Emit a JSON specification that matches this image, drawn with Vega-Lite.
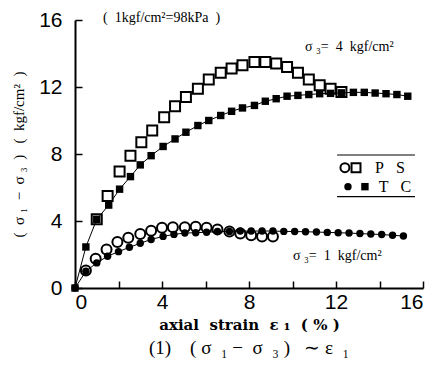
{
  "$schema": "https://vega.github.io/schema/vega-lite/v6.json",
  "width": 348,
  "height": 268,
  "autosize": {"type": "none"},
  "padding": {"left": 75, "top": 20, "right": 22, "bottom": 87},
  "background": "white",
  "config": {
    "view": {"stroke": null},
    "axis": {"grid": false, "domainColor": "black", "domainWidth": 2, "tickColor": "black", "tickWidth": 1.5, "labelColor": "black", "titleColor": "black"}
  },
  "title": {"text": "(1)\u00a0\u00a0\u00a0\u00a0(\u00a0σ\u00a0\u00a0₁\u00a0−\u00a0\u00a0σ\u00a0\u00a0₃\u00a0)\u00a0\u00a0\u00a0∼\u00a0ε\u00a0\u00a0₁", "orient": "bottom", "anchor": "middle", "font": "Liberation Serif", "fontSize": 19, "fontWeight": "normal", "color": "black", "offset": 7},
  "datasets": {
    "curves": [
      {"test": "PS", "sigma3": 4, "strain": 1.0, "stress": 4.1},
      {"test": "PS", "sigma3": 4, "strain": 1.5, "stress": 5.5},
      {"test": "PS", "sigma3": 4, "strain": 2.05, "stress": 6.95},
      {"test": "PS", "sigma3": 4, "strain": 2.55, "stress": 7.9},
      {"test": "PS", "sigma3": 4, "strain": 3.05, "stress": 8.7},
      {"test": "PS", "sigma3": 4, "strain": 3.55, "stress": 9.4},
      {"test": "PS", "sigma3": 4, "strain": 4.1, "stress": 10.2},
      {"test": "PS", "sigma3": 4, "strain": 4.6, "stress": 10.85},
      {"test": "PS", "sigma3": 4, "strain": 5.1, "stress": 11.4},
      {"test": "PS", "sigma3": 4, "strain": 5.65, "stress": 11.9},
      {"test": "PS", "sigma3": 4, "strain": 6.15, "stress": 12.45},
      {"test": "PS", "sigma3": 4, "strain": 6.7, "stress": 12.85},
      {"test": "PS", "sigma3": 4, "strain": 7.2, "stress": 13.1},
      {"test": "PS", "sigma3": 4, "strain": 7.7, "stress": 13.3},
      {"test": "PS", "sigma3": 4, "strain": 8.25, "stress": 13.5},
      {"test": "PS", "sigma3": 4, "strain": 8.75, "stress": 13.5},
      {"test": "PS", "sigma3": 4, "strain": 9.25, "stress": 13.4},
      {"test": "PS", "sigma3": 4, "strain": 9.75, "stress": 13.2},
      {"test": "PS", "sigma3": 4, "strain": 10.25, "stress": 12.85},
      {"test": "PS", "sigma3": 4, "strain": 10.75, "stress": 12.45},
      {"test": "PS", "sigma3": 4, "strain": 11.25, "stress": 12.1},
      {"test": "PS", "sigma3": 4, "strain": 11.75, "stress": 11.9},
      {"test": "PS", "sigma3": 4, "strain": 12.25, "stress": 11.7},
      {"test": "TC", "sigma3": 4, "strain": 0, "stress": 0},
      {"test": "TC", "sigma3": 4, "strain": 0.5, "stress": 2.45},
      {"test": "TC", "sigma3": 4, "strain": 1.0, "stress": 4.1},
      {"test": "TC", "sigma3": 4, "strain": 1.55, "stress": 4.95},
      {"test": "TC", "sigma3": 4, "strain": 2.05, "stress": 5.9},
      {"test": "TC", "sigma3": 4, "strain": 2.55, "stress": 6.65},
      {"test": "TC", "sigma3": 4, "strain": 3.0, "stress": 7.35},
      {"test": "TC", "sigma3": 4, "strain": 3.5, "stress": 7.9},
      {"test": "TC", "sigma3": 4, "strain": 4.05, "stress": 8.45},
      {"test": "TC", "sigma3": 4, "strain": 4.6, "stress": 8.9},
      {"test": "TC", "sigma3": 4, "strain": 5.1, "stress": 9.3},
      {"test": "TC", "sigma3": 4, "strain": 5.65, "stress": 9.7},
      {"test": "TC", "sigma3": 4, "strain": 6.15, "stress": 10.0},
      {"test": "TC", "sigma3": 4, "strain": 6.7, "stress": 10.3},
      {"test": "TC", "sigma3": 4, "strain": 7.2, "stress": 10.55},
      {"test": "TC", "sigma3": 4, "strain": 7.7, "stress": 10.75},
      {"test": "TC", "sigma3": 4, "strain": 8.25, "stress": 10.9},
      {"test": "TC", "sigma3": 4, "strain": 8.75, "stress": 11.15},
      {"test": "TC", "sigma3": 4, "strain": 9.25, "stress": 11.3},
      {"test": "TC", "sigma3": 4, "strain": 9.75, "stress": 11.45},
      {"test": "TC", "sigma3": 4, "strain": 10.25, "stress": 11.5},
      {"test": "TC", "sigma3": 4, "strain": 10.75, "stress": 11.55},
      {"test": "TC", "sigma3": 4, "strain": 11.25, "stress": 11.6},
      {"test": "TC", "sigma3": 4, "strain": 11.75, "stress": 11.62},
      {"test": "TC", "sigma3": 4, "strain": 12.25, "stress": 11.65},
      {"test": "TC", "sigma3": 4, "strain": 12.8, "stress": 11.68},
      {"test": "TC", "sigma3": 4, "strain": 13.3, "stress": 11.68},
      {"test": "TC", "sigma3": 4, "strain": 13.8, "stress": 11.64},
      {"test": "TC", "sigma3": 4, "strain": 14.3, "stress": 11.6},
      {"test": "TC", "sigma3": 4, "strain": 14.8, "stress": 11.55},
      {"test": "TC", "sigma3": 4, "strain": 15.3, "stress": 11.45},
      {"test": "PS", "sigma3": 1, "strain": 0.5, "stress": 1.05},
      {"test": "PS", "sigma3": 1, "strain": 0.95, "stress": 1.75},
      {"test": "PS", "sigma3": 1, "strain": 1.45, "stress": 2.3},
      {"test": "PS", "sigma3": 1, "strain": 1.95, "stress": 2.75},
      {"test": "PS", "sigma3": 1, "strain": 2.45, "stress": 3.0},
      {"test": "PS", "sigma3": 1, "strain": 3.0, "stress": 3.22},
      {"test": "PS", "sigma3": 1, "strain": 3.5, "stress": 3.42},
      {"test": "PS", "sigma3": 1, "strain": 4.0, "stress": 3.6},
      {"test": "PS", "sigma3": 1, "strain": 4.5, "stress": 3.62},
      {"test": "PS", "sigma3": 1, "strain": 5.05, "stress": 3.62},
      {"test": "PS", "sigma3": 1, "strain": 5.55, "stress": 3.65},
      {"test": "PS", "sigma3": 1, "strain": 6.05, "stress": 3.6},
      {"test": "PS", "sigma3": 1, "strain": 6.55, "stress": 3.5},
      {"test": "PS", "sigma3": 1, "strain": 7.1, "stress": 3.38},
      {"test": "PS", "sigma3": 1, "strain": 7.6, "stress": 3.25},
      {"test": "PS", "sigma3": 1, "strain": 8.1, "stress": 3.15},
      {"test": "PS", "sigma3": 1, "strain": 8.6, "stress": 3.08},
      {"test": "PS", "sigma3": 1, "strain": 9.1, "stress": 3.08},
      {"test": "TC", "sigma3": 1, "strain": 0, "stress": 0},
      {"test": "TC", "sigma3": 1, "strain": 0.5, "stress": 1.0},
      {"test": "TC", "sigma3": 1, "strain": 1.0, "stress": 1.5},
      {"test": "TC", "sigma3": 1, "strain": 1.5, "stress": 1.9},
      {"test": "TC", "sigma3": 1, "strain": 2.0, "stress": 2.17},
      {"test": "TC", "sigma3": 1, "strain": 2.5, "stress": 2.43},
      {"test": "TC", "sigma3": 1, "strain": 3.0, "stress": 2.67},
      {"test": "TC", "sigma3": 1, "strain": 3.5, "stress": 2.9},
      {"test": "TC", "sigma3": 1, "strain": 4.05, "stress": 3.08},
      {"test": "TC", "sigma3": 1, "strain": 4.55, "stress": 3.2},
      {"test": "TC", "sigma3": 1, "strain": 5.05, "stress": 3.28},
      {"test": "TC", "sigma3": 1, "strain": 5.55, "stress": 3.3},
      {"test": "TC", "sigma3": 1, "strain": 6.05, "stress": 3.33},
      {"test": "TC", "sigma3": 1, "strain": 6.55, "stress": 3.37},
      {"test": "TC", "sigma3": 1, "strain": 7.1, "stress": 3.38},
      {"test": "TC", "sigma3": 1, "strain": 7.6, "stress": 3.4},
      {"test": "TC", "sigma3": 1, "strain": 8.1, "stress": 3.4},
      {"test": "TC", "sigma3": 1, "strain": 8.6, "stress": 3.4},
      {"test": "TC", "sigma3": 1, "strain": 9.1, "stress": 3.4},
      {"test": "TC", "sigma3": 1, "strain": 9.6, "stress": 3.38},
      {"test": "TC", "sigma3": 1, "strain": 10.1, "stress": 3.37},
      {"test": "TC", "sigma3": 1, "strain": 10.6, "stress": 3.36},
      {"test": "TC", "sigma3": 1, "strain": 11.1, "stress": 3.34},
      {"test": "TC", "sigma3": 1, "strain": 11.6, "stress": 3.32},
      {"test": "TC", "sigma3": 1, "strain": 12.1, "stress": 3.3},
      {"test": "TC", "sigma3": 1, "strain": 12.6, "stress": 3.28},
      {"test": "TC", "sigma3": 1, "strain": 13.1, "stress": 3.25},
      {"test": "TC", "sigma3": 1, "strain": 13.6, "stress": 3.22},
      {"test": "TC", "sigma3": 1, "strain": 14.1, "stress": 3.19},
      {"test": "TC", "sigma3": 1, "strain": 14.6, "stress": 3.15},
      {"test": "TC", "sigma3": 1, "strain": 15.1, "stress": 3.1}
    ],
    "notes": [
      {"x": 1.29, "y": 16.12, "label": "(\u00a0\u00a01kgf/cm²=98kPa\u00a0\u00a0)"},
      {"x": 10.57, "y": 14.39, "label": "σ\u00a0₃=\u00a0\u00a04\u00a0\u00a0kgf/cm²"},
      {"x": 10.02, "y": 1.91, "label": "σ\u00a0₃=\u00a0\u00a01\u00a0\u00a0kgf/cm²"}
    ],
    "legendRules": [
      {"x": 12.05, "x2": 15.63, "y": 7.94},
      {"x": 12.05, "x2": 15.63, "y": 5.45}
    ],
    "legendSymbols": [
      {"test": "PS", "sigma3": 1, "x": 12.41, "y": 7.18},
      {"test": "PS", "sigma3": 4, "x": 12.92, "y": 7.18},
      {"test": "TC", "sigma3": 1, "x": 12.55, "y": 6.05},
      {"test": "TC", "sigma3": 4, "x": 13.33, "y": 6.05}
    ],
    "legendLabels": [
      {"x": 14.48, "y": 7.18, "label": "P\u00a0\u00a0\u00a0S"},
      {"x": 14.71, "y": 6.05, "label": "T\u00a0\u00a0\u00a0C"}
    ]
  },
  "layer": [
    {
      "data": {"name": "curves"},
      "transform": [{"filter": "datum.test == 'PS'"}],
      "mark": {"type": "point", "filled": false, "fill": "white", "fillOpacity": 1, "stroke": "black", "strokeWidth": 2, "opacity": 1, "size": 100},
      "encoding": {
        "x": {"field": "strain", "type": "quantitative", "scale": {"domain": [0, 16], "nice": false},
          "axis": {"values": [0, 2, 4, 6, 8, 10, 12, 14, 16], "labelExpr": "datum.value % 4 == 0 ? datum.label : ''", "tickSize": -7, "labelFont": "Liberation Sans", "labelFontSize": 21, "labelPadding": 10, "title": "axial\u00a0\u00a0strain\u00a0\u00a0ε\u00a0₁\u00a0\u00a0(\u00a0%\u00a0)", "titleFont": "DejaVu Serif", "titleFontSize": 15, "titleFontWeight": "bold", "titlePadding": 5}},
        "y": {"field": "stress", "type": "quantitative", "scale": {"domain": [0, 16], "nice": false},
          "axis": {"values": [0, 2, 4, 6, 8, 10, 12, 14, 16], "labelExpr": "datum.value % 4 == 0 ? datum.label : ''", "tickSize": -7, "labelFont": "Liberation Sans", "labelFontSize": 21, "labelPadding": 20, "title": "(\u00a0\u00a0σ\u00a0₁\u00a0\u00a0−\u00a0\u00a0σ\u00a0₃\u00a0\u00a0)\u00a0\u00a0\u00a0(\u00a0\u00a0kgf/cm²\u00a0\u00a0)", "titleFont": "Liberation Serif", "titleFontSize": 15, "titleFontWeight": "normal", "titlePadding": 12}},
        "shape": {"field": "sigma3", "type": "nominal", "scale": {"domain": [1, 4], "range": ["circle", "square"]}, "legend": null}
      }
    },
    {
      "data": {"name": "curves"},
      "transform": [{"filter": "datum.test == 'TC'"}],
      "mark": {"type": "line", "color": "black", "strokeWidth": 1},
      "encoding": {
        "x": {"field": "strain", "type": "quantitative"},
        "y": {"field": "stress", "type": "quantitative"},
        "detail": {"field": "sigma3", "type": "nominal"}
      }
    },
    {
      "data": {"name": "curves"},
      "transform": [{"filter": "datum.test == 'TC'"}],
      "mark": {"type": "point", "filled": true, "color": "black", "opacity": 1, "size": 55},
      "encoding": {
        "x": {"field": "strain", "type": "quantitative"},
        "y": {"field": "stress", "type": "quantitative"},
        "shape": {"field": "sigma3", "type": "nominal", "legend": null}
      }
    },
    {
      "data": {"name": "notes"},
      "mark": {"type": "text", "align": "left", "baseline": "middle", "font": "Liberation Serif", "fontSize": 14, "color": "black"},
      "encoding": {
        "x": {"field": "x", "type": "quantitative"},
        "y": {"field": "y", "type": "quantitative"},
        "text": {"field": "label"}
      }
    },
    {
      "data": {"name": "legendRules"},
      "mark": {"type": "rule", "color": "black", "strokeWidth": 1.2},
      "encoding": {
        "x": {"field": "x", "type": "quantitative"},
        "x2": {"field": "x2"},
        "y": {"field": "y", "type": "quantitative"}
      }
    },
    {
      "data": {"name": "legendSymbols"},
      "transform": [{"filter": "datum.test == 'PS'"}],
      "mark": {"type": "point", "filled": false, "fill": "white", "fillOpacity": 1, "stroke": "black", "strokeWidth": 2, "opacity": 1, "size": 80},
      "encoding": {
        "x": {"field": "x", "type": "quantitative"},
        "y": {"field": "y", "type": "quantitative"},
        "shape": {"field": "sigma3", "type": "nominal", "legend": null}
      }
    },
    {
      "data": {"name": "legendSymbols"},
      "transform": [{"filter": "datum.test == 'TC'"}],
      "mark": {"type": "point", "filled": true, "color": "black", "opacity": 1, "size": 55},
      "encoding": {
        "x": {"field": "x", "type": "quantitative"},
        "y": {"field": "y", "type": "quantitative"},
        "shape": {"field": "sigma3", "type": "nominal", "legend": null}
      }
    },
    {
      "data": {"name": "legendLabels"},
      "mark": {"type": "text", "align": "center", "baseline": "middle", "font": "Liberation Serif", "fontSize": 16, "color": "black"},
      "encoding": {
        "x": {"field": "x", "type": "quantitative"},
        "y": {"field": "y", "type": "quantitative"},
        "text": {"field": "label"}
      }
    }
  ]
}
